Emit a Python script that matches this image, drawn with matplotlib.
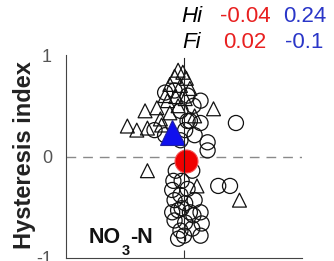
import numpy as np
import matplotlib
matplotlib.use('Agg')
import matplotlib.pyplot as plt

plt.rcParams['font.family'] = ['Liberation Sans', 'DejaVu Sans']

# flushing index (x) and hysteresis index (y), open triangles
tri_fi = [-0.05, -0.01, -0.08, 0.02, -0.12, -0.03, 0.05, -0.16, -0.07, 0.01,
          -0.33, -0.23, 0.25, -0.48, -0.40, -0.31, -0.20, -0.12, -0.31, 0.11,
          0.47, -0.19, -0.05, 0.09, -0.14]
tri_hi = [0.85, 0.83, 0.79, 0.77, 0.71, 0.70, 0.67, 0.60, 0.59, 0.57,
          0.45, 0.48, 0.47, 0.30, 0.26, 0.28, 0.37, 0.43, -0.14, -0.29,
          -0.43, 0.31, 0.50, 0.40, 0.55]

# open circles
circ_fi = [-0.16, 0.14, 0.44, 0.03, -0.08, 0.08, -0.03, 0.05, 0.14, -0.25,
           -0.16, 0.01, 0.09, 0.20, 0.20, -0.03, 0.03,
           -0.09, -0.02, -0.10, -0.03, 0.03, 0.29, 0.39, -0.08, 0.01,
           0.09, -0.05, 0.05, 0.14, -0.02, 0.08, 0.15, -0.08, 0.01,
           0.07, -0.03, 0.14, 0.00, -0.10, -0.05, -0.07, 0.07]
circ_hi = [0.63, 0.55, 0.33, 0.60, 0.65, 0.50, 0.45, 0.35, 0.33, 0.26,
           0.21, 0.26, 0.21, 0.14, 0.06, 0.16, 0.35,
           -0.24, -0.24, -0.33, -0.38, -0.32, -0.29, -0.29, -0.43, -0.46,
           -0.43, -0.53, -0.55, -0.55, -0.51, -0.58, -0.66, -0.63, -0.65,
           -0.71, -0.73, -0.78, -0.78, -0.55, -0.81, -0.14, -0.14]

# mean values
mean_red = (0.02, -0.04)
mean_blue = (-0.10, 0.24)
hi_vals = ['-0.04', '0.24']
fi_vals = ['0.02', '-0.1']

W, H = 334, 261
fig = plt.figure(figsize=(W/100, H/100), dpi=100)
ax = fig.add_axes([66/W, 3/H, 236/W, 203/H])

ax.axhline(0, color='#8a8a8a', lw=1.0, dashes=(7, 5), zorder=1)
ax.plot([0, 0], [-0.82, 0.97], color='#222222', lw=0.8, zorder=5)

ax.scatter(circ_fi, circ_hi, s=118, marker='o', facecolors='none',
           edgecolors='#111111', linewidths=0.9, zorder=2)
ax.scatter(tri_fi, tri_hi, s=100, marker='^', facecolors='none',
           edgecolors='#111111', linewidths=0.9, zorder=2)

ax.plot(mean_red[0], mean_red[1], 'o', ms=16.5, mfc='#f00000', mec='#f05050',
        mew=0.8, zorder=4)
ax.plot(mean_blue[0], mean_blue[1], '^', ms=18, mfc='#1010ee', mec='#2020a0',
        mew=0.8, zorder=4)

ax.set_xlim(-1, 1)
ax.set_ylim(-1, 1)
ax.set_xticks([0])
ax.set_xticklabels([])
ax.set_yticks([-1, 0, 1])
ax.set_yticklabels(['-1', '0', '1'])
ax.tick_params(axis='x', direction='in', length=6, width=0.8, color='#333333')
ax.tick_params(axis='y', length=0, pad=10, labelsize=13, labelcolor='#555555')
for s in ['top', 'right']:
    ax.spines[s].set_visible(False)
for s in ['left', 'bottom']:
    ax.spines[s].set_color('#444444')
    ax.spines[s].set_linewidth(0.8)

fig.text(25/W, 1-155/H, 'Hysteresis index', rotation=90, fontsize=17,
         fontweight='bold', ha='center', va='center', color='#222222')

# NO3-N label, subscript drawn as its own text
fig.text(89/W, 1-243/H, 'NO', fontsize=15.5, fontweight='bold', va='baseline', color='#111111')
fig.text(122/W, 1-255/H, '3', fontsize=10.5, fontweight='bold', va='baseline', color='#111111')
fig.text(130/W, 1-243/H, '-N', fontsize=15.5, fontweight='bold', va='baseline', color='#111111')

fs = 16
red, blue = '#e82020', '#2a36c8'
fig.text(181/W, 1-22/H, 'Hi', style='italic', fontsize=fs, va='baseline')
fig.text(271/W, 1-22/H, hi_vals[0], color=red, fontsize=fs, va='baseline', ha='right')
fig.text(326/W, 1-22/H, hi_vals[1], color=blue, fontsize=fs, va='baseline', ha='right')
fig.text(182/W, 1-48/H, 'Fi', style='italic', fontsize=fs, va='baseline')
fig.text(266/W, 1-48/H, fi_vals[0], color=red, fontsize=fs, va='baseline', ha='right')
fig.text(323/W, 1-48/H, fi_vals[1], color=blue, fontsize=fs, va='baseline', ha='right')

fig.savefig('out.png', dpi=100)
